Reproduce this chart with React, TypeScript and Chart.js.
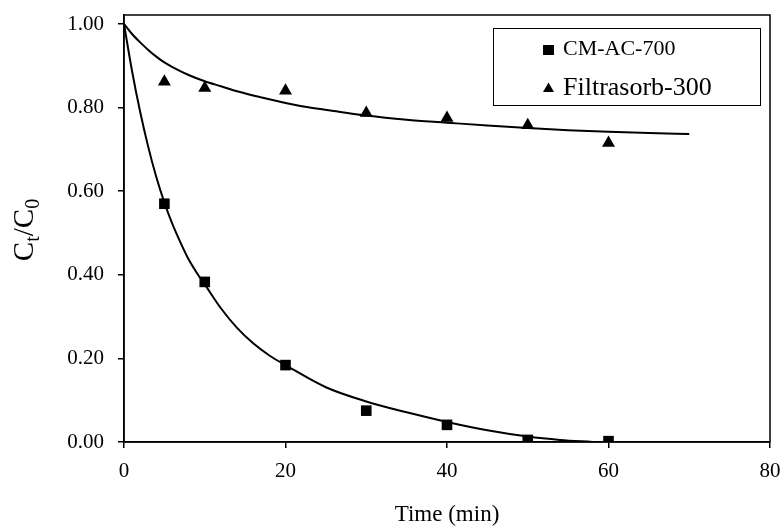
import React, { useEffect, useRef } from "react";
import { Chart, registerables } from "chart.js";

Chart.register(...registerables);

const seriesNames = ["CM-AC-700", "Filtrasorb-300"];
const cmTime = [5, 10, 20, 30, 40, 50, 60];
const cmValues = [0.57, 0.383, 0.184, 0.075, 0.041, 0.005, 0.002];
const fTime = [5, 10, 20, 30, 40, 50, 60];
const fValues = [0.862, 0.847, 0.84, 0.787, 0.775, 0.758, 0.715];
const cmFitTime = [0, 1, 2, 3, 4, 5, 6, 7, 8, 9, 10, 12, 14, 16, 18, 20, 25, 30, 35, 40, 45, 50, 54, 58];
const cmFitValues = [1.0, 0.887, 0.79, 0.706, 0.634, 0.573, 0.521, 0.477, 0.437, 0.405, 0.377, 0.32, 0.273, 0.236, 0.207, 0.184, 0.131, 0.097, 0.071, 0.048, 0.028, 0.013, 0.005, 0.0];
const fFitTime = [0, 1, 2, 3, 4, 5, 6, 8, 10, 12, 14, 16, 18, 20, 23, 26, 30, 35, 40, 45, 50, 55, 60, 65, 70];
const fFitValues = [1.0, 0.976, 0.956, 0.938, 0.922, 0.908, 0.897, 0.878, 0.863, 0.851, 0.839, 0.829, 0.82, 0.811, 0.8, 0.792, 0.781, 0.771, 0.764, 0.757, 0.751, 0.746, 0.742, 0.739, 0.737];
const xTicks = [0, 20, 40, 60, 80];
const yTicks = [0, 0.2, 0.4, 0.6, 0.8, 1.0];
const xTitle = "Time (min)";

const FONT = "'Liberation Serif', 'Times New Roman', serif";

const pts = (xs: number[], ys: number[]) => xs.map((x, i) => ({ x, y: ys[i] }));

const framePlugin = {
  id: "frame",
  afterDraw(chart: any) {
    const { ctx, chartArea } = chart;
    const { left, top, right, bottom } = chartArea;
    ctx.save();
    // plot frame
    ctx.strokeStyle = "#000";
    ctx.lineWidth = 1.5;
    ctx.strokeRect(left, top, right - left, bottom - top);

    // legend
    const lx = 493, ly = 28, lw = 267, lh = 77;
    ctx.lineWidth = 1;
    ctx.strokeRect(lx + 0.5, ly + 0.5, lw, lh);
    ctx.fillStyle = "#000";
    const mx = 548.5;
    ctx.fillRect(mx - 5.5, 45, 11, 10);
    ctx.beginPath();
    ctx.moveTo(mx, 82.5);
    ctx.lineTo(mx + 5.5, 92);
    ctx.lineTo(mx - 5.5, 92);
    ctx.closePath();
    ctx.fill();
    ctx.textAlign = "left";
    ctx.textBaseline = "alphabetic";
    ctx.font = `22px ${FONT}`;
    ctx.fillText(seriesNames[0], 563, 55);
    ctx.font = `26px ${FONT}`;
    ctx.fillText(seriesNames[1], 563, 95);

    // x title
    ctx.font = `23px ${FONT}`;
    ctx.textAlign = "center";
    ctx.fillText(xTitle, (left + right) / 2, 521);

    // y title with subscripts
    const big = `29px ${FONT}`;
    const small = `20px ${FONT}`;
    const parts = [
      { t: "C", f: big, dy: 0 },
      { t: "t", f: small, dy: 6 },
      { t: "/C", f: big, dy: 0 },
      { t: "0", f: small, dy: 6 },
    ];
    let total = 0;
    for (const p of parts) {
      ctx.font = p.f;
      total += ctx.measureText(p.t).width;
    }
    ctx.translate(33, 230);
    ctx.rotate(-Math.PI / 2);
    ctx.textAlign = "left";
    let cx = -total / 2;
    for (const p of parts) {
      ctx.font = p.f;
      ctx.fillText(p.t, cx, p.dy);
      cx += ctx.measureText(p.t).width;
    }
    ctx.restore();
  },
};

export default function App() {
  const ref = useRef<HTMLCanvasElement | null>(null);
  useEffect(() => {
    if (!ref.current) return;
    const chart = new Chart(ref.current, {
      type: "line",
      data: {
        datasets: [
          {
            label: seriesNames[0],
            data: pts(cmTime, cmValues),
            showLine: false,
            pointStyle: "rect",
            pointRadius: 7.5,
            pointBackgroundColor: "#000",
            pointBorderColor: "#000",
            pointBorderWidth: 0,
          },
          {
            label: seriesNames[1],
            data: pts(fTime, fValues),
            showLine: false,
            pointStyle: "triangle",
            pointRadius: 7.5,
            pointBackgroundColor: "#000",
            pointBorderColor: "#000",
            pointBorderWidth: 0,
          },
          {
            label: "fit1",
            data: pts(cmFitTime, cmFitValues),
            borderColor: "#000",
            borderWidth: 2,
            pointRadius: 0,
            cubicInterpolationMode: "monotone",
            fill: false,
          },
          {
            label: "fit2",
            data: pts(fFitTime, fFitValues),
            borderColor: "#000",
            borderWidth: 2,
            pointRadius: 0,
            cubicInterpolationMode: "monotone",
            fill: false,
          },
        ],
      } as any,
      options: {
        responsive: false,
        animation: false,
        layout: { padding: { top: 15, right: 11, left: 0, bottom: 0 } },
        plugins: { legend: { display: false }, tooltip: { enabled: false } },
        scales: {
          x: {
            type: "linear",
            min: 0,
            max: 80,
            afterBuildTicks: (s: any) => {
              s.ticks = xTicks.map((v) => ({ value: v }));
            },
            afterFit: (s: any) => {
              s.height = 85;
              s.paddingLeft = 0;
              s.paddingRight = 0;
            },
            grid: { drawOnChartArea: false, drawTicks: true, tickLength: 6, color: "#000", lineWidth: 1.5 },
            border: { color: "#000", width: 1.5 },
            ticks: {
              font: { family: FONT, size: 21 },
              color: "#000",
              padding: 11,
              maxRotation: 0,
              callback: (v: any) => String(v),
            },
          },
          y: {
            type: "linear",
            min: 0,
            max: 1.0215,
            afterBuildTicks: (s: any) => {
              s.ticks = yTicks.map((v) => ({ value: v }));
            },
            afterFit: (s: any) => {
              s.width = 124;
              s.paddingTop = 0;
              s.paddingBottom = 0;
            },
            grid: { drawOnChartArea: false, drawTicks: true, tickLength: 6, color: "#000", lineWidth: 1.5 },
            border: { color: "#000", width: 1.5 },
            ticks: {
              font: { family: FONT, size: 21 },
              color: "#000",
              padding: 14,
              callback: (v: any) => Number(v).toFixed(2),
            },
          },
        },
      },
      plugins: [framePlugin],
    } as any);
    return () => chart.destroy();
  }, []);
  return (
    <div style={{ position: "absolute", left: 0, top: 0, width: 781, height: 527 }}>
      <canvas ref={ref} width={781} height={527} />
    </div>
  );
}
